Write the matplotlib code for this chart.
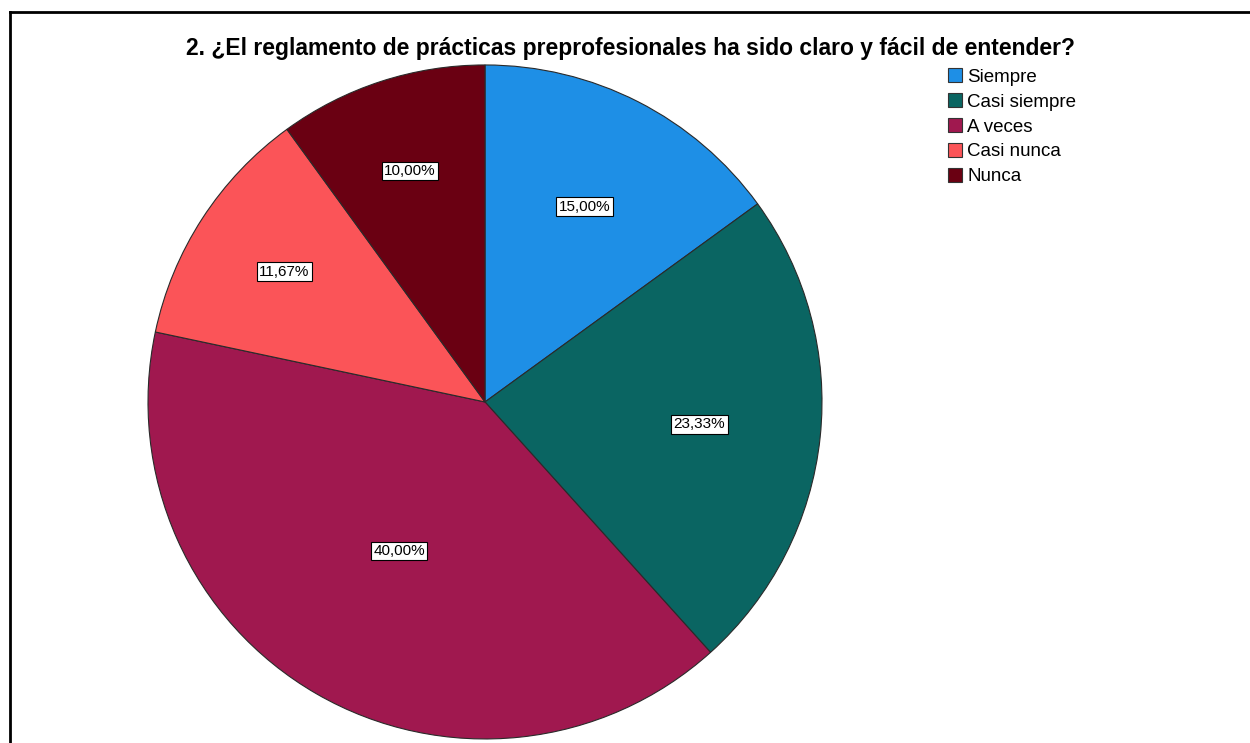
import matplotlib.pyplot as plt
import matplotlib.patches as mpatches
from matplotlib.lines import Line2D
import numpy as np

plt.rcParams['font.family'] = ['Liberation Sans', 'DejaVu Sans']

categorias = ["Siempre", "Casi siempre", "A veces", "Casi nunca", "Nunca"]
porcentajes = [15.00, 23.33, 40.00, 11.67, 10.00]
colores = ["#1E8FE6", "#0A6562", "#A0184F", "#FB5458", "#6A0012"]
dist_etiqueta = [0.65, 0.64, 0.51, 0.71, 0.72]   # distancia radial de cada etiqueta

titulo = "2. ¿El reglamento de prácticas preprofesionales ha sido claro y fácil de entender?"

fig = plt.figure(figsize=(12.5, 7.43), dpi=100)
ax = fig.add_axes([0.1184, 0.0054, 0.5392, 0.9072])

wedges, _ = ax.pie(porcentajes, colors=colores, startangle=90, counterclock=False,
                   wedgeprops=dict(edgecolor="#2a2a2a", linewidth=0.8))
ax.set_xlim(-1, 1)
ax.set_ylim(-1, 1)
ax.set_aspect("equal")
ax.axis("off")

# etiquetas de porcentaje
for w, p, d in zip(wedges, porcentajes, dist_etiqueta):
    ang = np.deg2rad((w.theta1 + w.theta2) / 2)
    ax.text(d * np.cos(ang), d * np.sin(ang), f"{p:.2f}%".replace(".", ","),
            ha="center", va="center", fontsize=11,
            bbox=dict(boxstyle="square,pad=0.15", fc="white", ec="black", lw=0.8))

fig.text(0.504, 0.935, titulo, ha="center", va="center", fontsize=16.5, fontweight="bold")

handles = [mpatches.Patch(facecolor=c, edgecolor="#333333", lw=0.8) for c in colores]
fig.legend(handles, categorias, loc="upper left", bbox_to_anchor=(0.758, 0.908),
           frameon=False, fontsize=13.5, handlelength=0.75, handleheight=0.75,
           handletextpad=0.3, labelspacing=0.4, borderpad=0, borderaxespad=0)

# marco (solo izquierda y arriba)
fig.add_artist(Line2D([0.008, 0.008], [0, 0.984], color="black", lw=2, transform=fig.transFigure))
fig.add_artist(Line2D([0.008, 1.0], [0.984, 0.984], color="black", lw=2, transform=fig.transFigure))

fig.savefig("out.png", dpi=100)
